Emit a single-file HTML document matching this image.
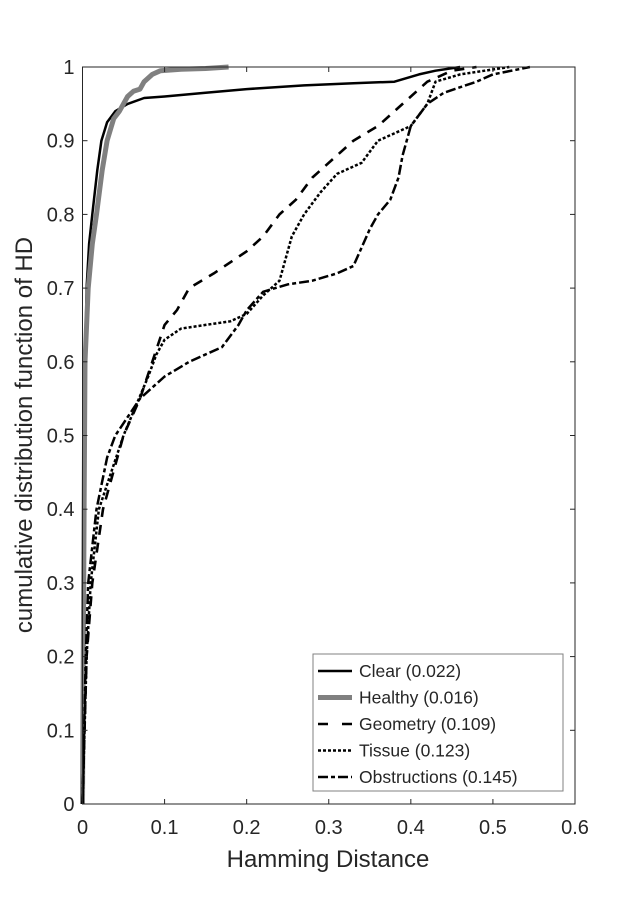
<!DOCTYPE html>
<html><head><meta charset="utf-8"><style>
body{margin:0;background:#fff;}
svg text{font-family:"Liberation Sans",sans-serif;fill:#262626;}
</style></head><body>
<svg id="chart" width="635" height="903" xmlns="http://www.w3.org/2000/svg">
<g id="plot"></g>
</svg>
<script>
const xTicks=[0,0.1,0.2,0.3,0.4,0.5,0.6];
const yTicks=[0,0.1,0.2,0.3,0.4,0.5,0.6,0.7,0.8,0.9,1];
const xTickLabels=["0","0.1","0.2","0.3","0.4","0.5","0.6"];
const yTickLabels=["0","0.1","0.2","0.3","0.4","0.5","0.6","0.7","0.8","0.9","1"];
const clearX=[0,0.002,0.005,0.008,0.012,0.018,0.023,0.03,0.04,0.055,0.075,0.1,0.15,0.2,0.27,0.33,0.38,0.41,0.43,0.46];
const clearY=[0,0.5,0.7,0.76,0.8,0.86,0.9,0.925,0.94,0.95,0.958,0.96,0.965,0.97,0.975,0.978,0.98,0.99,0.995,1];
const healthyX=[0,0.002,0.003,0.007,0.012,0.017,0.024,0.03,0.038,0.045,0.055,0.062,0.07,0.075,0.085,0.095,0.12,0.15,0.178];
const healthyY=[0,0.4,0.6,0.7,0.76,0.8,0.86,0.9,0.93,0.94,0.96,0.967,0.97,0.98,0.99,0.995,0.997,0.998,1];
const geomX=[0,0.005,0.012,0.025,0.04,0.05,0.07,0.085,0.1,0.115,0.13,0.16,0.2,0.22,0.24,0.26,0.28,0.31,0.33,0.36,0.39,0.42,0.45,0.48];
const geomY=[0,0.2,0.3,0.4,0.46,0.5,0.55,0.6,0.65,0.67,0.7,0.72,0.75,0.77,0.8,0.82,0.85,0.88,0.9,0.92,0.95,0.98,0.995,1];
const tissueX=[0,0.005,0.01,0.02,0.035,0.05,0.08,0.09,0.1,0.12,0.15,0.18,0.2,0.22,0.24,0.255,0.27,0.29,0.31,0.34,0.36,0.4,0.42,0.43,0.46,0.49,0.52];
const tissueY=[0,0.2,0.3,0.4,0.45,0.5,0.58,0.61,0.63,0.645,0.65,0.655,0.665,0.69,0.71,0.77,0.8,0.83,0.855,0.87,0.9,0.92,0.95,0.98,0.99,0.995,1];
const obstrX=[0,0.004,0.007,0.017,0.03,0.04,0.07,0.1,0.13,0.17,0.19,0.2,0.22,0.25,0.28,0.31,0.33,0.35,0.36,0.375,0.385,0.39,0.4,0.42,0.44,0.48,0.5,0.545];
const obstrY=[0,0.2,0.3,0.4,0.47,0.5,0.55,0.58,0.6,0.62,0.65,0.67,0.695,0.705,0.71,0.72,0.73,0.78,0.8,0.82,0.85,0.88,0.92,0.95,0.965,0.98,0.99,1];

const X0=82.5,X1=575,Y0=804,Y1=67;
const sx=v=>X0+(v/0.6)*(X1-X0);
const sy=v=>Y0-v*(Y0-Y1);
const NS="http://www.w3.org/2000/svg";
const svg=document.getElementById('chart');
const plot=document.getElementById('plot');
function mk(t,a,p){const e=document.createElementNS(NS,t);for(const k in a)e.setAttribute(k,a[k]);(p||svg).appendChild(e);return e;}

const box=mk('rect',{x:X0,y:Y1,width:X1-X0,height:Y0-Y1,fill:'none',stroke:'#262626','stroke-width':1});



xTicks.forEach((v,i)=>{
  const x=sx(v);
  const t1=mk('line',{x1:x,x2:x,y1:Y0,y2:Y0-5,stroke:'#262626'});
  
  
  const t2=mk('line',{x1:x,x2:x,y1:Y1,y2:Y1+5,stroke:'#262626'});
  
  
  const l=mk('text',{x:x,y:Y0+30,'text-anchor':'middle','font-size':20});
  l.textContent=xTickLabels[i];
  
  
});
yTicks.forEach((v,i)=>{
  const y=sy(v);
  const t1=mk('line',{x1:X0,x2:X0+5,y1:y,y2:y,stroke:'#262626'});
  
  
  const t2=mk('line',{x1:X1,x2:X1-5,y1:y,y2:y,stroke:'#262626'});
  
  
  const l=mk('text',{x:X0-8,y:y+7,'text-anchor':'end','font-size':20});
  l.textContent=yTickLabels[i];
  
  
});

const xl=mk('text',{x:328,y:867,'text-anchor':'middle','font-size':24});
xl.textContent='Hamming Distance';


const yl=mk('text',{x:0,y:0,'text-anchor':'middle','font-size':24,transform:'translate(32,435) rotate(-90)'});
yl.textContent='cumulative distribution function of HD';



const series=[
 {xs:clearX,ys:clearY,stroke:'#000',w:2.5,dash:'',ld:'',name:'Clear (0.022)',id:'series-clear'},
 {xs:healthyX,ys:healthyY,stroke:'#808080',w:5,dash:'',ld:'',name:'Healthy (0.016)',id:'series-healthy'},
 {xs:geomX,ys:geomY,stroke:'#000',w:2.6,dash:'10,8',ld:'10,14',name:'Geometry (0.109)',id:'series-geometry'},
 {xs:tissueX,ys:tissueY,stroke:'#000',w:2.5,dash:'3,2',ld:'3,2',name:'Tissue (0.123)',id:'series-tissue'},
 {xs:obstrX,ys:obstrY,stroke:'#000',w:2.5,dash:'10,3,4,3',ld:'10,3,4,3',name:'Obstructions (0.145)',id:'series-obstructions'}
];
series.forEach(s=>{
  const d=s.xs.map((v,i)=>(i?'L':'M')+sx(v).toFixed(1)+','+sy(s.ys[i]).toFixed(1)).join('');
  const p=mk('path',{d:d,fill:'none',stroke:s.stroke,'stroke-width':s.w,'stroke-dasharray':s.dash,'stroke-linejoin':'round'},plot);
  
  
});

const lg=mk('g',{});


const lr=mk('rect',{x:313,y:654,width:250,height:137,fill:'#fff',stroke:'#808080','stroke-width':1},lg);


series.forEach((s,i)=>{
  const y=671+i*26.5;
  const ln=mk('line',{x1:318,x2:352,y1:y,y2:y,stroke:s.stroke,'stroke-width':s.w,'stroke-dasharray':s.ld},lg);
  
  
  const t=mk('text',{x:359,y:y+6,'font-size':17.5},lg);
  t.textContent=s.name;
  
  
});
</script>
</body></html>
